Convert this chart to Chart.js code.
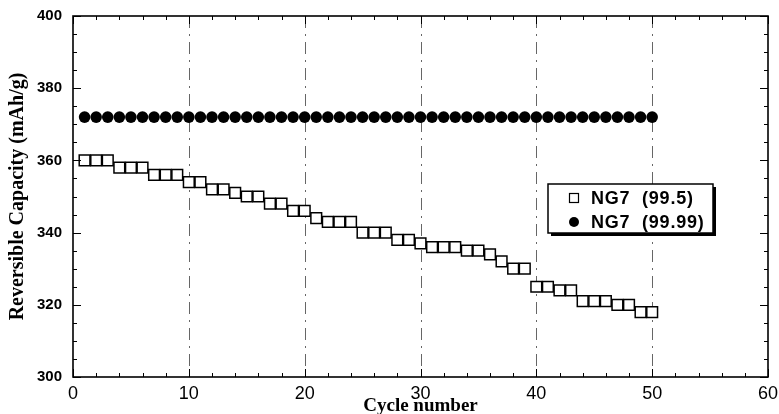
<!doctype html>
<html>
<head>
<meta charset="utf-8">
<title>Reversible Capacity vs Cycle number</title>
<script src="https://cdn.jsdelivr.net/npm/chart.js"></script>
<style>
  html, body { margin: 0; padding: 0; background: #fff; }
  canvas { display: block; }
</style>
</head>
<body>
<canvas id="chart" width="779" height="414"></canvas>
<script>
// ---- data ----
const cycles = [
  1, 2, 3, 4, 5, 6, 7, 8, 9, 10,
  11, 12, 13, 14, 15, 16, 17, 18, 19, 20,
  21, 22, 23, 24, 25, 26, 27, 28, 29, 30,
  31, 32, 33, 34, 35, 36, 37, 38, 39, 40,
  41, 42, 43, 44, 45, 46, 47, 48, 49, 50
]
const ng7_995 = [
  360, 360, 360, 358, 358, 358, 356, 356, 356, 354,
  354, 352, 352, 351, 350, 350, 348, 348, 346, 346,
  344, 343, 343, 343, 340, 340, 340, 338, 338, 337,
  336, 336, 336, 335, 335, 334, 332, 330, 330, 325,
  325, 324, 324, 321, 321, 321, 320, 320, 318, 318
]
const ng7_9999 = [
  372, 372, 372, 372, 372, 372, 372, 372, 372, 372,
  372, 372, 372, 372, 372, 372, 372, 372, 372, 372,
  372, 372, 372, 372, 372, 372, 372, 372, 372, 372,
  372, 372, 372, 372, 372, 372, 372, 372, 372, 372,
  372, 372, 372, 372, 372, 372, 372, 372, 372, 372
]
const seriesLabels = ['NG7  (99.5)', 'NG7  (99.99)']
const xTicks = [0, 10, 20, 30, 40, 50, 60]
const yTicks = [300, 320, 340, 360, 380, 400]

const toPoints = (ys) => cycles.map((c, i) => ({ x: c, y: ys[i] }))

// frame, inward ticks on all four sides, dashed vertical grid, legend box
const framePlugin = {
  id: 'frame',
  beforeDatasetsDraw(chart) {
    const { ctx, chartArea: a, scales: { x } } = chart
    ctx.save()
    ctx.strokeStyle = '#666'
    ctx.lineWidth = 1
    ctx.setLineDash([12, 6, 2, 6])
    xTicks.slice(1, -1).forEach((v) => {
      const px = Math.round(x.getPixelForValue(v)) + 0.5
      ctx.beginPath()
      ctx.moveTo(px, a.top)
      ctx.lineTo(px, a.bottom)
      ctx.stroke()
    })
    ctx.restore()
  },
  afterDatasetsDraw(chart) {
    const { ctx, chartArea: a, scales: { x, y } } = chart
    ctx.save()
    ctx.strokeStyle = '#000'
    ctx.lineWidth = 1
    for (let v = 0; v <= 60; v += 2) {
      const px = Math.round(x.getPixelForValue(v)) + 0.5
      const len = v % 10 === 0 ? 8 : 4
      ctx.beginPath()
      ctx.moveTo(px, a.bottom); ctx.lineTo(px, a.bottom - len)
      ctx.moveTo(px, a.top); ctx.lineTo(px, a.top + len)
      ctx.stroke()
    }
    for (let v = 300; v <= 400; v += 5) {
      const py = Math.round(y.getPixelForValue(v)) + 0.5
      const len = v % 20 === 0 ? 8 : 4
      ctx.beginPath()
      ctx.moveTo(a.left, py); ctx.lineTo(a.left + len, py)
      ctx.moveTo(a.right, py); ctx.lineTo(a.right - len, py)
      ctx.stroke()
    }
    ctx.lineWidth = 1.6
    ctx.strokeRect(a.left, a.top, a.right - a.left, a.bottom - a.top)

    // legend box with drop shadow
    const bx = a.left + 475, by = a.top + 168, bw = 165, bh = 49
    ctx.fillStyle = '#000'
    ctx.fillRect(bx + 3, by + 3, bw, bh)
    ctx.fillStyle = '#fff'
    ctx.fillRect(bx, by, bw, bh)
    ctx.lineWidth = 1.5
    ctx.strokeRect(bx, by, bw, bh)
    const sx = bx + 26
    ctx.lineWidth = 1.2
    ctx.strokeRect(sx - 4.5, by + 14 - 4.5, 9, 9)
    ctx.fillStyle = '#000'
    ctx.beginPath()
    ctx.arc(sx, by + 38, 5, 0, Math.PI * 2)
    ctx.fill()
    ctx.font = 'bold 18px "Liberation Sans", Arial, sans-serif'
    ctx.letterSpacing = '0.8px'
    ctx.textBaseline = 'middle'
    ctx.fillText(seriesLabels[0], bx + 43, by + 15)
    ctx.fillText(seriesLabels[1], bx + 43, by + 39)
    ctx.restore()
  }
}

new Chart(document.getElementById('chart'), {
  type: 'scatter',
  data: {
    datasets: [
      {
        label: seriesLabels[0],
        data: toPoints(ng7_995),
        pointStyle: 'rect',
        pointRadius: 7.6,
        pointBorderWidth: 1.5,
        borderColor: '#000',
        backgroundColor: '#fff'
      },
      {
        label: seriesLabels[1],
        data: toPoints(ng7_9999),
        pointStyle: 'circle',
        pointRadius: 5.8,
        pointBorderWidth: 0,
        borderColor: '#000',
        backgroundColor: '#000'
      }
    ]
  },
  options: {
    responsive: false,
    animation: false,
    devicePixelRatio: 1,
    layout: { padding: { top: 16, right: 11, left: 0, bottom: 0 } },
    plugins: { legend: { display: false }, tooltip: { enabled: false } },
    scales: {
      x: {
        type: 'linear',
        min: 0,
        max: 60,
        afterFit(s) { s.height = 37 },
        afterBuildTicks(s) { s.ticks = xTicks.map((v) => ({ value: v })) },
        grid: { display: false },
        border: { display: false },
        ticks: {
          color: '#000',
          padding: 0,
          font: { family: '"Liberation Sans", Arial, sans-serif', size: 18, lineHeight: 1 }
        },
        title: {
          display: true,
          text: 'Cycle number',
          color: '#000',
          padding: { top: 0, bottom: -2 },
          font: { family: '"Liberation Serif", "Times New Roman", serif', size: 19, weight: 'bold', lineHeight: 1 }
        }
      },
      y: {
        type: 'linear',
        min: 300,
        max: 400,
        afterFit(s) { s.width = 73 },
        afterBuildTicks(s) { s.ticks = yTicks.map((v) => ({ value: v })) },
        grid: { display: false },
        border: { display: false },
        ticks: {
          color: '#000',
          padding: 3,
          font: { family: '"Liberation Sans", Arial, sans-serif', size: 15, weight: 'bold' }
        },
        title: {
          display: true,
          text: 'Reversible Capacity (mAh/g)',
          color: '#000',
          padding: { top: 8, bottom: 0 },
          font: { family: '"Liberation Serif", "Times New Roman", serif', size: 20, weight: 'bold', lineHeight: 1 }
        }
      }
    }
  },
  plugins: [framePlugin]
})
</script>
</body>
</html>
